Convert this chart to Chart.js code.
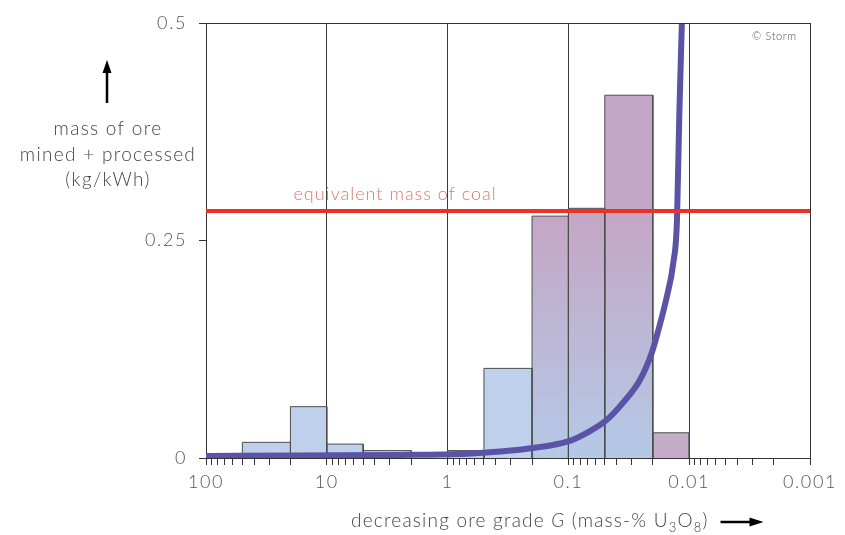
<!DOCTYPE html>
<html><head><meta charset="utf-8">
<script src="https://cdn.jsdelivr.net/npm/chart.js@4.4.1/dist/chart.umd.min.js"></script>
<style>html,body{margin:0;padding:0;background:#fff}#wrap{width:845px;height:535px;position:relative}</style>
</head><body><div id="wrap"><canvas id="c"></canvas></div>
<script>
// ---- data ----
const binUpperGrade = [50, 20, 10, 5, 1, 0.5, 0.2, 0.1, 0.05, 0.02];
const binLowerGrade = [20, 10, 5, 2, 0.5, 0.2, 0.1, 0.05, 0.02, 0.01];
const binOreMass    = [0.018, 0.059, 0.016, 0.0085, 0.0085, 0.103, 0.278, 0.287, 0.417, 0.029];
const curveGrade    = [100, 16.7, 2.48, 0.69, 0.368, 0.196, 0.1007, 0.0662, 0.0489, 0.0351, 0.0255, 0.0204, 0.018, 0.01535, 0.01355, 0.01262, 0.01208, 0.0115];
const curveOreMass  = [0.0023, 0.003, 0.0035, 0.005, 0.0075, 0.0115, 0.019, 0.031, 0.043, 0.064, 0.090, 0.121, 0.147, 0.185, 0.224, 0.274, 0.394, 0.5];
const coalMass = 0.284;
const xTickDecades = [0.001, 0.01, 0.1, 1, 10, 100];
const xTickLabels  = ['0.001', '0.01', '0.1', '1', '10', '100'];
const xMinorMultiples = [1, 2, 3, 4, 5, 6, 7, 8, 9];
const yTickValues = [0, 0.25, 0.5];
const yTickLabels = ['0', '0.25', '0.5'];
const binStyle = ['blue', 'blue', 'blue', 'blue', 'blue', 'blue', 'grad', 'grad', 'grad', 'purple'];

// ---- styles ----
const FONT = '"Lato", "Open Sans", sans-serif';
const TXT = '#555555';
const BLUE = '#bed0eb';
const BLUE2 = '#b4c9e7';
const PURPLE = '#c4a7c6';
const PURPLE2 = '#c5adc9';

function barFill(style) {
  return (ctx) => {
    if (style === 'blue') return BLUE;
    if (style === 'purple') return PURPLE2;
    const ch = ctx.chart;
    if (!ch.chartArea) return BLUE;
    const y = ch.scales.y;
    const g = ch.ctx.createLinearGradient(0, y.getPixelForValue(0), 0, y.getPixelForValue(0.27));
    g.addColorStop(0, BLUE2);
    g.addColorStop(1, PURPLE);
    return g;
  };
}

const datasets = [];
datasets.push({
  label: 'coal',
  data: [{x: 100, y: coalMass}, {x: 0.001, y: coalMass}],
  showLine: true, borderColor: '#ee3127', borderWidth: 4, pointRadius: 0, fill: false, order: 0
});
datasets.push({
  label: 'ore curve',
  data: curveGrade.map((g, i) => ({x: g, y: curveOreMass[i]})),
  showLine: true, borderColor: '#5a53a6', borderWidth: 6, pointRadius: 0, fill: false,
  cubicInterpolationMode: 'monotone', order: 1
});
binOreMass.forEach((m, i) => {
  datasets.push({
    label: 'bin' + i,
    data: [
      {x: binUpperGrade[i], y: 0}, {x: binUpperGrade[i], y: m},
      {x: binLowerGrade[i], y: m}, {x: binLowerGrade[i], y: 0}
    ],
    showLine: true, borderColor: '#4d4d4d', borderWidth: 1, pointRadius: 0,
    fill: 'origin', backgroundColor: barFill(binStyle[i]), order: 2 + i, tension: 0
  });
});

function isDecade(v) {
  return xTickDecades.some(d => Math.abs(Math.log10(v) - Math.log10(d)) < 1e-6);
}

const spacingPlugin = {
  id: 'spacing',
  beforeDraw(chart) { chart.ctx.letterSpacing = '1.6px'; }
};

const decorPlugin = {
  id: 'decor',
  afterDraw(chart) {
    const c = chart.ctx, ca = chart.chartArea;
    const xs = chart.scales.x, ys = chart.scales.y;
    c.save();
    // frame top & right
    c.strokeStyle = '#333'; c.lineWidth = 1;
    c.beginPath();
    c.moveTo(ca.left, Math.round(ca.top) + 0.5); c.lineTo(ca.right, Math.round(ca.top) + 0.5);
    c.moveTo(Math.round(ca.right) + 0.5, ca.top); c.lineTo(Math.round(ca.right) + 0.5, ca.bottom);
    c.stroke();
    // coal label
    c.fillStyle = '#d97a6b';
    c.font = '300 18px ' + FONT;
    c.letterSpacing = '1px';
    c.textAlign = 'left'; c.textBaseline = 'middle';
    c.fillText('equivalent mass of coal', xs.getPixelForValue(20) + 3, ys.getPixelForValue(coalMass) - 17);
    // copyright
    c.fillStyle = '#555';
    c.font = '300 11px ' + FONT;
    c.letterSpacing = '0.6px';
    c.textAlign = 'left';
    c.fillText('\u00A9 Storm', 752, ca.top + 13);
    // y title
    c.fillStyle = '#444';
    c.font = '300 19px ' + FONT;
    c.letterSpacing = '1.3px';
    c.textAlign = 'center';
    c.fillText('mass of ore', 108, 129);
    c.fillText('mined + processed', 108, 155);
    c.fillText('(kg/kWh)', 108, 180);
    // up arrow
    c.letterSpacing = '0px';
    c.strokeStyle = '#000'; c.fillStyle = '#000'; c.lineWidth = 2.5;
    c.beginPath(); c.moveTo(107, 103); c.lineTo(107, 70); c.stroke();
    c.beginPath(); c.moveTo(107, 60); c.lineTo(102.5, 73); c.lineTo(111.5, 73); c.closePath(); c.fill();
    // x title
    c.fillStyle = '#444';
    c.textAlign = 'left'; c.textBaseline = 'alphabetic';
    c.letterSpacing = '1.2px';
    let x = 351; const base = 527;
    const seg = (t, font, dy) => { c.font = font; c.fillText(t, x, base + (dy || 0)); x += c.measureText(t).width; };
    const N = '300 19px ' + FONT, I = 'italic 300 19px ' + FONT, S = '300 13px ' + FONT;
    seg('decreasing ore grade ', N);
    seg('G', I);
    seg(' (mass-% U', N);
    seg('3', S, 5);
    seg('O', N);
    seg('8', S, 5);
    seg(')', N);
    // right arrow
    c.letterSpacing = '0px';
    c.strokeStyle = '#000'; c.fillStyle = '#000'; c.lineWidth = 2.5;
    const ax = x + 12;
    c.beginPath(); c.moveTo(ax, 522); c.lineTo(ax + 30, 522); c.stroke();
    c.beginPath(); c.moveTo(ax + 43, 522); c.lineTo(ax + 29, 517.5); c.lineTo(ax + 29, 526.5); c.closePath(); c.fill();
    c.restore();
  }
};

new Chart(document.getElementById('c'), {
  type: 'scatter',
  data: { datasets },
  options: {
    responsive: true, maintainAspectRatio: false, animation: false,
    layout: { padding: { top: 23, right: 35, left: 0, bottom: 0 } },
    plugins: { legend: { display: false }, tooltip: { enabled: false } },
    elements: { line: { tension: 0 } },
    scales: {
      x: {
        type: 'logarithmic', reverse: true, min: 0.001, max: 100,
        afterFit(s) { s.height = 77; },
        afterBuildTicks(s) {
          const t = [];
          xTickDecades.forEach(d => xMinorMultiples.forEach(k => {
            const v = +(k * d).toPrecision(6);
            if (v >= 0.001 && v <= 100) t.push({ value: v, major: k === 1 });
          }));
          s.ticks = t;
        },
        ticks: {
          autoSkip: false, maxRotation: 0, minRotation: 0, padding: 6,
          color: TXT, font: { family: FONT, size: 18, weight: '300' },
          callback(v) {
            const i = xTickDecades.findIndex(d => Math.abs(Math.log10(v) - Math.log10(d)) < 1e-6);
            return i >= 0 ? xTickLabels[i] : '';
          }
        },
        grid: {
          drawOnChartArea: true, drawTicks: true, tickLength: 7,
          color: (ctx) => (ctx.tick && isDecade(ctx.tick.value)) ? '#3a3a3a' : 'rgba(0,0,0,0)',
          tickColor: '#333', lineWidth: 1, tickWidth: 1
        },
        border: { display: true, color: '#333', width: 1 }
      },
      y: {
        type: 'linear', min: 0, max: 0.5,
        afterFit(s) { s.width = 206; },
        afterBuildTicks(s) { s.ticks = yTickValues.map(v => ({ value: v })); },
        ticks: {
          padding: 12, color: TXT, font: { family: FONT, size: 18, weight: '300' },
          callback(v) { const i = yTickValues.indexOf(v); return i >= 0 ? yTickLabels[i] : ''; }
        },
        grid: { drawOnChartArea: false, drawTicks: true, tickLength: 7, tickColor: '#333' },
        border: { display: true, color: '#333', width: 1 }
      }
    }
  },
  plugins: [spacingPlugin, decorPlugin]
});
</script>
</body></html>
